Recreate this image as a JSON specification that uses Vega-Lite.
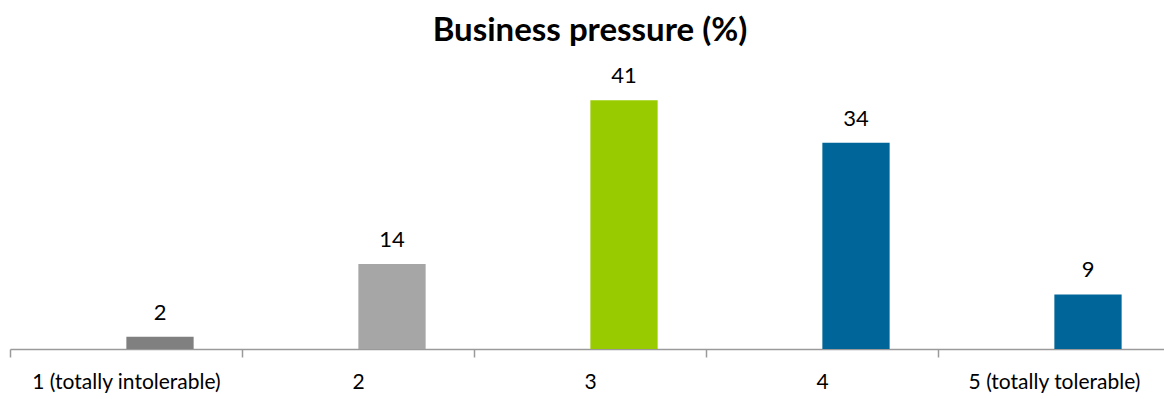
{
  "$schema": "https://vega.github.io/schema/vega-lite/v6.json",
  "autosize": {"type": "none"},
  "width": 1160,
  "height": 273,
  "padding": {"left": 10, "top": 76, "right": 0, "bottom": 50},
  "background": "white",
  "title": {
    "text": "Business pressure (%)",
    "font": "Lato",
    "fontWeight": "bold",
    "fontSize": 33,
    "color": "#000000",
    "anchor": "middle",
    "offset": 17
  },
  "config": {"view": {"stroke": null}},
  "data": {
    "values": [
      {"category": "1 (totally intolerable)", "value": 2},
      {"category": "2", "value": 14},
      {"category": "3", "value": 41},
      {"category": "4", "value": 34},
      {"category": "5 (totally tolerable)", "value": 9}
    ]
  },
  "encoding": {
    "x": {
      "field": "category",
      "type": "nominal",
      "sort": null,
      "scale": {"paddingInner": 0, "paddingOuter": 0},
      "axis": {
        "title": null,
        "labelAngle": 0,
        "labelFont": "Lato",
        "labelFontSize": 21,
        "labelLimit": 400,
        "labelColor": "#000000",
        "labelPadding": 14,
        "domainColor": "#9a9a9a",
        "domainWidth": 1.5,
        "tickColor": "#9a9a9a",
        "tickWidth": 1.5,
        "tickSize": 8,
        "tickBand": "extent"
      }
    },
    "y": {
      "field": "value",
      "type": "quantitative",
      "scale": {"domain": [0, 45]},
      "axis": null
    }
  },
  "layer": [
    {
      "mark": {"type": "bar", "width": {"band": 0.29}, "xOffset": 34},
      "encoding": {
        "color": {
          "field": "category",
          "type": "nominal",
          "sort": null,
          "legend": null,
          "scale": {"range": ["#808080", "#a6a6a6", "#99cc00", "#006699", "#006699"]}
        }
      }
    },
    {
      "mark": {"type": "text", "xOffset": 34, "dy": -24, "font": "Lato", "fontSize": 22, "color": "#000000"},
      "encoding": {"text": {"field": "value", "type": "quantitative"}}
    }
  ]
}
